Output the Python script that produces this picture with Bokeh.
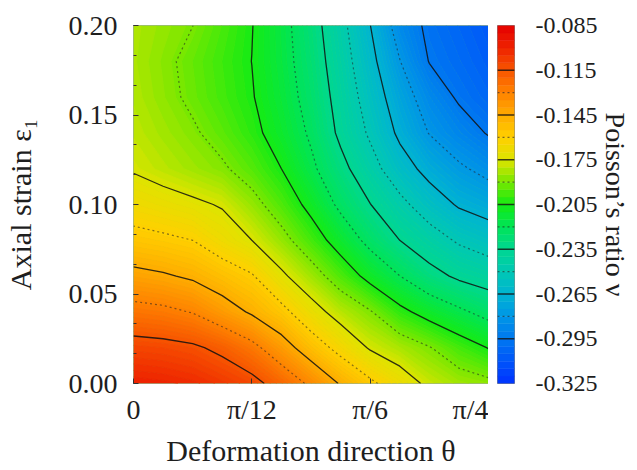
import numpy as np
from bokeh.plotting import figure
from bokeh.layouts import row
from bokeh.models import Range1d, FixedTicker, SingleIntervalTicker, PrintfTickFormatter
from bokeh.embed import file_html
from bokeh.resources import INLINE

# Deformation direction theta, in degrees (0 .. pi/4)
theta_deg = [0, 3.75, 7.5, 11.25, 15, 18.75, 22.5, 26.25, 30, 33.75, 37.5, 41.25, 45]
# Axial strain epsilon_1
strain = [0.00, 0.02, 0.04, 0.06, 0.08, 0.10, 0.12, 0.14, 0.16, 0.18, 0.20]

# Poisson's ratio, one row per strain value
nu_e000 = [-0.099, -0.100, -0.102, -0.106, -0.111, -0.1205, -0.1326, -0.1461, -0.1573, -0.1677, -0.178, -0.184, -0.187]
nu_e002 = [-0.110, -0.111, -0.113, -0.118, -0.1261, -0.1387, -0.1523, -0.1645, -0.1763, -0.1828, -0.1893, -0.198, -0.2055]
nu_e004 = [-0.1253, -0.127, -0.1306, -0.1385, -0.1467, -0.156, -0.1693, -0.1805, -0.189, -0.2015, -0.2103, -0.2175, -0.2245]
nu_e006 = [-0.1413, -0.1435, -0.1469, -0.1528, -0.1588, -0.1725, -0.1841, -0.1965, -0.2093, -0.2199, -0.2303, -0.2373, -0.2415]
nu_e008 = [-0.1555, -0.1575, -0.160, -0.1676, -0.175, -0.1858, -0.1979, -0.2112, -0.2239, -0.235, -0.2434, -0.2518, -0.257]
nu_e010 = [-0.1668, -0.1696, -0.1725, -0.1761, -0.1857, -0.1964, -0.2089, -0.2229, -0.2347, -0.2462, -0.2575, -0.2665, -0.271]
nu_e012 = [-0.1762, -0.1802, -0.1842, -0.1883, -0.1955, -0.205, -0.2173, -0.2308, -0.2446, -0.2586, -0.2696, -0.278, -0.2841]
nu_e014 = [-0.1795, -0.1839, -0.1884, -0.1945, -0.2017, -0.2107, -0.2219, -0.2378, -0.252, -0.2677, -0.2805, -0.2884, -0.296]
nu_e016 = [-0.1815, -0.1867, -0.1922, -0.1982, -0.2042, -0.2134, -0.225, -0.2403, -0.2565, -0.2731, -0.2868, -0.2968, -0.3025]
nu_e018 = [-0.1825, -0.1875, -0.1931, -0.1991, -0.2051, -0.2149, -0.2271, -0.243, -0.2608, -0.2796, -0.2955, -0.3007, -0.306]
nu_e020 = [-0.182, -0.1859, -0.1899, -0.1972, -0.2046, -0.2155, -0.2288, -0.2457, -0.2648, -0.2863, -0.298, -0.3032, -0.3085]

nu_rows = [nu_e000, nu_e002, nu_e004, nu_e006, nu_e008, nu_e010,
           nu_e012, nu_e014, nu_e016, nu_e018, nu_e020]

# colour bar ticks and contour levels
cb_ticks = [-0.325, -0.295, -0.265, -0.235, -0.205, -0.175, -0.145, -0.115, -0.085]
levels_solid = [-0.295, -0.265, -0.235, -0.205, -0.175, -0.145, -0.115]
levels_dotted = [-0.28, -0.25, -0.22, -0.19, -0.16, -0.13]
x_ticks = [0, 15, 30, 45]
x_tick_labels = ["0", "π/12", "π/6", "π/4"]

# ---- palette (style): key colours at every 0.015 from -0.325 to -0.085 ----
key_cols = [(0, 50, 255), (0, 85, 250), (0, 120, 240), (0, 150, 230), (0, 180, 210),
            (0, 200, 180), (0, 215, 145), (0, 228, 88), (20, 235, 20), (120, 232, 0),
            (222, 228, 0), (255, 208, 0), (255, 172, 0), (255, 130, 0), (248, 85, 0),
            (238, 35, 0), (230, 0, 0)]
cb_lo, cb_hi = cb_ticks[0], cb_ticks[-1]
kpos = np.linspace(0, 1, len(key_cols))
kc = np.array(key_cols, dtype=float)


def make_palette(n):
    out = []
    for i in range(n):
        t = (i + 0.5) / n
        r, g, b = (np.interp(t, kpos, kc[:, c]) for c in range(3))
        out.append("#%02x%02x%02x" % (int(round(r)), int(round(g)), int(round(b))))
    return out


NF = 120   # bands in the map
NB = 48    # bands in the colour bar
fill_levels = list(np.linspace(cb_lo, cb_hi, NF + 1))
fill_pal = make_palette(NF)
edge_cols = [fill_pal[min(i, NF - 1)] for i in range(NF + 1)]
bar_levels = list(np.linspace(cb_lo, cb_hi, NB + 1))
bar_pal = make_palette(NB)

FONT = "Liberation Serif"
TXT = "#1e1e1e"

X, Y = np.meshgrid(np.array(theta_deg), np.array(strain))
Z = np.array(nu_rows)

p = figure(width=488, height=470, x_range=Range1d(0, 45), y_range=Range1d(0, 0.2),
           output_backend="svg", toolbar_location=None,
           min_border_left=133, min_border_right=0, min_border_top=25, min_border_bottom=87)
p.background_fill_color = "#7fdd40"
p.outline_line_color = "#777777"
p.outline_line_alpha = 0.5

p.contour(X, Y, Z, levels=fill_levels, fill_color=fill_pal, line_color=edge_cols, line_width=1.0)
p.contour(X, Y, Z, levels=levels_solid, line_color="#111111", line_width=1.3, line_alpha=0.85)
p.contour(X, Y, Z, levels=levels_dotted, line_color="#222222", line_width=1.2,
          line_alpha=0.55, line_dash="2 3")

p.grid.visible = False
p.xaxis.ticker = FixedTicker(ticks=x_ticks)
p.xaxis.major_label_overrides = {t: l for t, l in zip(x_ticks, x_tick_labels)}
p.yaxis.ticker = SingleIntervalTicker(interval=0.05, num_minor_ticks=3)
p.yaxis.formatter = PrintfTickFormatter(format="%.2f")
for ax in (p.xaxis[0], p.yaxis[0]):
    ax.axis_line_color = None
    ax.major_tick_in = 5
    ax.major_tick_out = 0
    ax.minor_tick_in = 3
    ax.minor_tick_out = 0
    ax.major_tick_line_color = "#333333"
    ax.minor_tick_line_color = "#333333"
    ax.major_label_text_font = FONT
    ax.major_label_text_font_size = "28px"
    ax.major_label_text_color = TXT
    ax.axis_label_text_font = FONT
    ax.axis_label_text_font_size = "30px"
    ax.axis_label_text_font_style = "normal"
    ax.axis_label_text_color = TXT
p.xaxis.minor_tick_in = 0
p.xaxis.axis_label = "Deformation direction θ"
p.yaxis.axis_label = "Axial strain ε₁"
p.xaxis.major_label_standoff = 10
p.yaxis.major_label_standoff = 16
p.xaxis.axis_label_standoff = 6
p.yaxis.axis_label_standoff = 29

# ---- colour bar as its own small figure ----
cb = figure(width=149, height=470, x_range=Range1d(0, 1), y_range=Range1d(cb_lo, cb_hi),
            output_backend="svg", toolbar_location=None, x_axis_location=None,
            y_axis_location="right",
            min_border_left=9, min_border_right=123, min_border_top=25, min_border_bottom=87)
cb.grid.visible = False
cb.outline_line_color = "#555555"
cb.outline_line_alpha = 0.7
cb.quad(left=0, right=1, bottom=bar_levels[:-1], top=bar_levels[1:],
        fill_color=bar_pal, line_color=bar_pal, line_width=0.5)
cb.segment(x0=0, x1=1, y0=levels_solid, y1=levels_solid, line_color="#111111",
           line_width=1.3, line_alpha=0.8)
cb.segment(x0=0, x1=1, y0=levels_dotted, y1=levels_dotted, line_color="#222222",
           line_width=1.2, line_alpha=0.6, line_dash="2 3")
ay = cb.yaxis[0]
ay.ticker = FixedTicker(ticks=cb_ticks)
ay.formatter = PrintfTickFormatter(format="%.3f")
ay.axis_line_color = None
ay.major_tick_in = 0
ay.major_tick_out = 0
ay.minor_tick_in = 0
ay.minor_tick_out = 0
ay.major_label_standoff = 21
ay.major_label_text_font = FONT
ay.major_label_text_font_size = "24px"
ay.major_label_text_color = TXT
ay.axis_label = "Poisson’s ratio ν"
ay.axis_label_text_font = FONT
ay.axis_label_text_font_size = "28px"
ay.axis_label_text_font_style = "normal"
ay.axis_label_text_color = TXT
ay.axis_label_standoff = 0

layout = row(p, cb)
open("out.html", "w").write(file_html(layout, INLINE))
